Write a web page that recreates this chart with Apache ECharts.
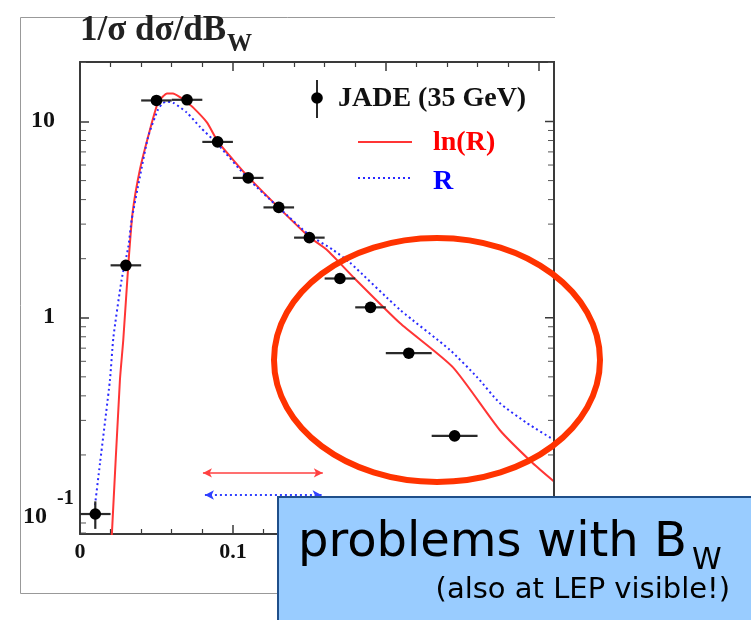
<!DOCTYPE html>
<html><head><meta charset="utf-8">
<script src="https://cdn.jsdelivr.net/npm/echarts@6/dist/echarts.min.js"></script>
<style>html,body{margin:0;padding:0;background:#fff}#c{width:751px;height:620px}</style>
</head><body><div id="c"></div>
<script>
// ---- data ----
const binCenters = [0.01, 0.03, 0.05, 0.07, 0.09, 0.11, 0.13, 0.15, 0.17, 0.19, 0.215, 0.245];
const binLow     = [0.00, 0.02, 0.04, 0.06, 0.08, 0.10, 0.12, 0.14, 0.16, 0.18, 0.20, 0.23];
const binHigh    = [0.02, 0.04, 0.06, 0.08, 0.10, 0.12, 0.14, 0.16, 0.18, 0.20, 0.23, 0.26];
const jadeValues = [0.1, 1.85, 12.8, 12.9, 7.87, 5.16, 3.65, 2.56, 1.585, 1.13, 0.66, 0.25];
const jadeErrors = [0.016, 0.08, 0.3, 0.3, 0.15, 0.1, 0.07, 0.05, 0.04, 0.03, 0.02, 0.012];

const lnRx = [0.0205, 0.0261, 0.0283, 0.0316, 0.0344, 0.0392, 0.0458, 0.0510, 0.0542, 0.0569, 0.0608, 0.0654, 0.0699, 0.0739, 0.0830, 0.0902, 0.100, 0.1105, 0.130, 0.1497, 0.1614, 0.1784, 0.2092, 0.2438, 0.2745, 0.296, 0.3098];
const lnRy = [0.07, 0.48, 0.77, 1.86, 3.43, 5.69, 9.1, 12.5, 13.4, 13.9, 13.9, 13.3, 12.5, 11.8, 9.9, 7.9, 6.4, 5.18, 3.64, 2.59, 2.22, 1.62, 0.94, 0.56, 0.268, 0.182, 0.147];

const Rx = [0.0098, 0.0131, 0.0196, 0.0218, 0.0272, 0.0316, 0.0338, 0.0392, 0.0446, 0.0510, 0.0542, 0.0569, 0.0608, 0.0699, 0.0784, 0.0902, 0.1105, 0.130, 0.1497, 0.1654, 0.1765, 0.2092, 0.2418, 0.2595, 0.2745, 0.2922, 0.3098];
const Ry = [0.111, 0.182, 0.483, 0.79, 1.56, 2.30, 3.16, 5.24, 8.38, 11.5, 12.4, 12.6, 12.5, 11.1, 9.4, 7.63, 5.06, 3.64, 2.65, 2.22, 1.91, 1.1, 0.687, 0.50, 0.368, 0.291, 0.239];

const redArrowX = [0.0804, 0.1588];  const redArrowY = 0.162;
const blueArrowX = [0.0817, 0.158];  const blueArrowY = 0.125;

const xTickValues = [0, 0.1, 0.2, 0.3];
const xTickLabels = ['0', '0.1', '0.2', '0.3'];
const yTickValues = [0.1, 1, 10];
const yTickLabels = ['10', '1', '10'];
const yTickSup    = ['-1', '', ''];

const X_MIN = 0, X_MAX = 0.31, Y_MIN = 0.0791, Y_MAX = 20.1;

// ---- chart ----
const serif = '"Liberation Serif","Times New Roman",serif';
const sans = '"DejaVu Sans",Verdana,sans-serif';
const chart = echarts.init(document.getElementById('c'));
const AX = '#3a3a3a';

const axisLine = {show: true, lineStyle: {color: AX, width: 2}};
const xAxisBase = {
  type: 'value', min: X_MIN, max: X_MAX, interval: 0.1,
  axisLine: axisLine, splitLine: {show: false},
  axisTick: {show: true, inside: true, length: 9, lineStyle: {color: AX, width: 1.5}},
  minorTick: {show: true, splitNumber: 5, length: 5, lineStyle: {color: AX, width: 1.2}},
  minorSplitLine: {show: false}
};
const yAxisBase = {
  type: 'log', logBase: 10, min: Y_MIN, max: Y_MAX,
  axisLine: axisLine, splitLine: {show: false},
  axisTick: {show: true, inside: true, length: 9, lineStyle: {color: AX, width: 1.5}},
  axisLabel: {show: false}
};

chart.setOption({
  animation: false,
  backgroundColor: '#fff',
  grid: {left: 80, top: 62, right: 197, bottom: 86, containLabel: false},
  xAxis: [
    Object.assign({}, xAxisBase, {
      position: 'bottom',
      axisLabel: {
        show: true, margin: 7, showMaxLabel: false,
        fontFamily: serif, fontWeight: 'bold', fontSize: 22, color: '#111',
        formatter: function (v) {
          for (let i = 0; i < xTickValues.length; i++) if (Math.abs(v - xTickValues[i]) < 1e-9) return xTickLabels[i];
          return '';
        }
      }
    }),
    Object.assign({}, xAxisBase, {position: 'top', axisLabel: {show: false}})
  ],
  yAxis: [
    Object.assign({}, yAxisBase, {position: 'left'})
  ],
  series: [
    {
      name: 'ln(R)', type: 'line', xAxisIndex: 0, yAxisIndex: 0,
      data: lnRx.map((x, i) => [x, lnRy[i]]),
      symbol: 'none', smooth: 0.2, clip: true, z: 3,
      lineStyle: {color: '#ff3535', width: 2},
      markLine: {
        silent: true, symbol: ['arrow', 'arrow'], symbolSize: [7, 9],
        label: {show: false},
        lineStyle: {color: '#ff4040', width: 1.5, type: 'solid'},
        data: [[{coord: [redArrowX[0], redArrowY]}, {coord: [redArrowX[1], redArrowY]}]]
      }
    },
    {
      name: 'R', type: 'line', xAxisIndex: 0, yAxisIndex: 0,
      data: Rx.map((x, i) => [x, Ry[i]]),
      symbol: 'none', smooth: 0.2, clip: true, z: 3,
      lineStyle: {color: '#2a2aff', width: 2, type: [2, 3]},
      markLine: {
        silent: true, symbol: ['arrow', 'arrow'], symbolSize: [7, 9],
        label: {show: false},
        lineStyle: {color: '#3040ff', width: 2, type: [2, 3]},
        data: [[{coord: [blueArrowX[0], blueArrowY]}, {coord: [blueArrowX[1], blueArrowY]}]]
      }
    },
    {
      name: 'JADE (35 GeV)', type: 'custom', xAxisIndex: 0, yAxisIndex: 0, z: 5,
      data: binCenters.map((x, i) => [x, jadeValues[i], binLow[i], binHigh[i], jadeErrors[i]]),
      encode: {x: 0, y: 1},
      renderItem: function (params, api) {
        const xc = api.value(0), y = api.value(1), xl = api.value(2), xh = api.value(3), ye = api.value(4);
        const pL = api.coord([xl, y]), pH = api.coord([xh, y]), pC = api.coord([xc, y]);
        const pT = api.coord([xc, y + ye]), pB = api.coord([xc, y - ye]);
        return {type: 'group', children: [
          {type: 'line', shape: {x1: pL[0], y1: pL[1], x2: pH[0], y2: pH[1]}, style: {stroke: '#2a2a2a', lineWidth: 2.2}},
          {type: 'line', shape: {x1: pT[0], y1: pT[1], x2: pB[0], y2: pB[1]}, style: {stroke: '#2a2a2a', lineWidth: 2.2}},
          {type: 'circle', shape: {cx: pC[0], cy: pC[1], r: 5.8}, style: {fill: '#000'}}
        ]};
      }
    }
  ]
});

// ---- annotations / axis labels as graphic ----
const yPix = v => chart.convertToPixel({yAxisIndex: 0}, v);
const xPix = v => chart.convertToPixel({xAxisIndex: 0}, v);
const measureCtx = document.createElement('canvas').getContext('2d');
function textWidth(text, font) { measureCtx.font = font; return measureCtx.measureText(text).width; }

const g = [];
function fontOf(size, opts) { return (opts.weight || 'bold') + ' ' + size + 'px ' + (opts.family || serif); }
function txt(text, x, y, size, opts) {
  opts = opts || {};
  g.push({type: 'text', x: x, y: y, z: opts.z || 50, silent: true, style: {
    text: text, fill: opts.color || '#111',
    font: fontOf(size, opts),
    textAlign: opts.align || 'left', align: opts.align || 'left',
    textVerticalAlign: 'middle', verticalAlign: 'middle'
  }});
}
// outer frame
g.push({type: 'polyline', z: 1, silent: true, shape: {points: [[555, 17.5], [20.5, 17.5], [20.5, 593.5], [300, 593.5]]}, style: {fill: 'none', stroke: '#999', lineWidth: 1}});
// right axis (mirror of left log axis)
const xr = xPix(X_MAX), yTop = yPix(Y_MAX), yBot = yPix(Y_MIN);
g.push({type: 'line', z: 10, silent: true, shape: {x1: xr, y1: yTop - 1, x2: xr, y2: yBot + 1}, style: {stroke: AX, lineWidth: 2}});
yTickValues.forEach(v => {
  const py = yPix(v);
  g.push({type: 'line', z: 10, silent: true, shape: {x1: xr - 9, y1: py, x2: xr, y2: py}, style: {stroke: AX, lineWidth: 1.5}});
});
// y minor ticks (log)
[0.01, 0.1, 1, 10].forEach(dec => {
  for (let m = 2; m <= 9; m++) {
    const v = m * dec;
    if (v <= Y_MIN || v >= Y_MAX) continue;
    const py = yPix(v);
    g.push({type: 'line', z: 10, silent: true, shape: {x1: 81, y1: py, x2: 86, y2: py}, style: {stroke: '#555', lineWidth: 1}});
    g.push({type: 'line', z: 10, silent: true, shape: {x1: xr - 6, y1: py, x2: xr - 1, y2: py}, style: {stroke: '#555', lineWidth: 1}});
  }
});
// y tick labels
yTickValues.forEach((v, i) => {
  const py = yPix(v);
  if (yTickSup[i]) {
    txt(yTickLabels[i], 47, py + 3, 24, {align: 'right'});
    txt(yTickSup[i], 57, py - 15, 20, {align: 'left'});
  } else {
    txt(yTickLabels[i], 55, py - 1, 24, {align: 'right'});
  }
});
// title
const titleMain = '1/\u03c3 d\u03c3/dB';
const titleFont = fontOf(35, {});
txt(titleMain, 80, 31, 35, {color: '#222'});
txt('W', 80 + textWidth(titleMain, titleFont) + 1, 45, 25, {color: '#222'});
// legend
g.push({type: 'line', z: 50, silent: true, shape: {x1: 317, y1: 80, x2: 317, y2: 118}, style: {stroke: '#2a2a2a', lineWidth: 2}});
g.push({type: 'circle', z: 51, silent: true, shape: {cx: 317, cy: 98, r: 5.8}, style: {fill: '#000'}});
txt('JADE (35 GeV)', 338, 99, 28, {color: '#111'});
g.push({type: 'line', z: 50, silent: true, shape: {x1: 358, y1: 142, x2: 412, y2: 142}, style: {stroke: '#ff3535', lineWidth: 2}});
txt('ln(R)', 433, 143, 28, {color: '#ff0000'});
g.push({type: 'line', z: 50, silent: true, shape: {x1: 358, y1: 178, x2: 412, y2: 178}, style: {stroke: '#2a2aff', lineWidth: 2, lineDash: [2, 3]}});
txt('R', 433, 182, 28, {color: '#0000ff'});
// ellipse
g.push({type: 'ellipse', z: 60, silent: true, shape: {cx: 437, cy: 360, rx: 163, ry: 122}, style: {fill: 'none', stroke: '#ff3300', lineWidth: 6}});
// box
g.push({type: 'rect', z: 70, silent: true, shape: {x: 278, y: 497, width: 480, height: 130}, style: {fill: '#99ccff', stroke: '#1f4f8a', lineWidth: 2}});
const boxMain = 'problems with B';
const boxOpts = {weight: 'normal', family: sans, color: '#000', z: 71};
txt(boxMain, 298, 544, 48, boxOpts);
txt('W', 298 + textWidth(boxMain, fontOf(48, boxOpts)) + 5, 561, 30, boxOpts);
txt('(also at LEP visible!)', 730, 590, 29, {weight: 'normal', family: sans, color: '#000', align: 'right', z: 71});

chart.setOption({graphic: {elements: g}});
</script>
</body></html>
